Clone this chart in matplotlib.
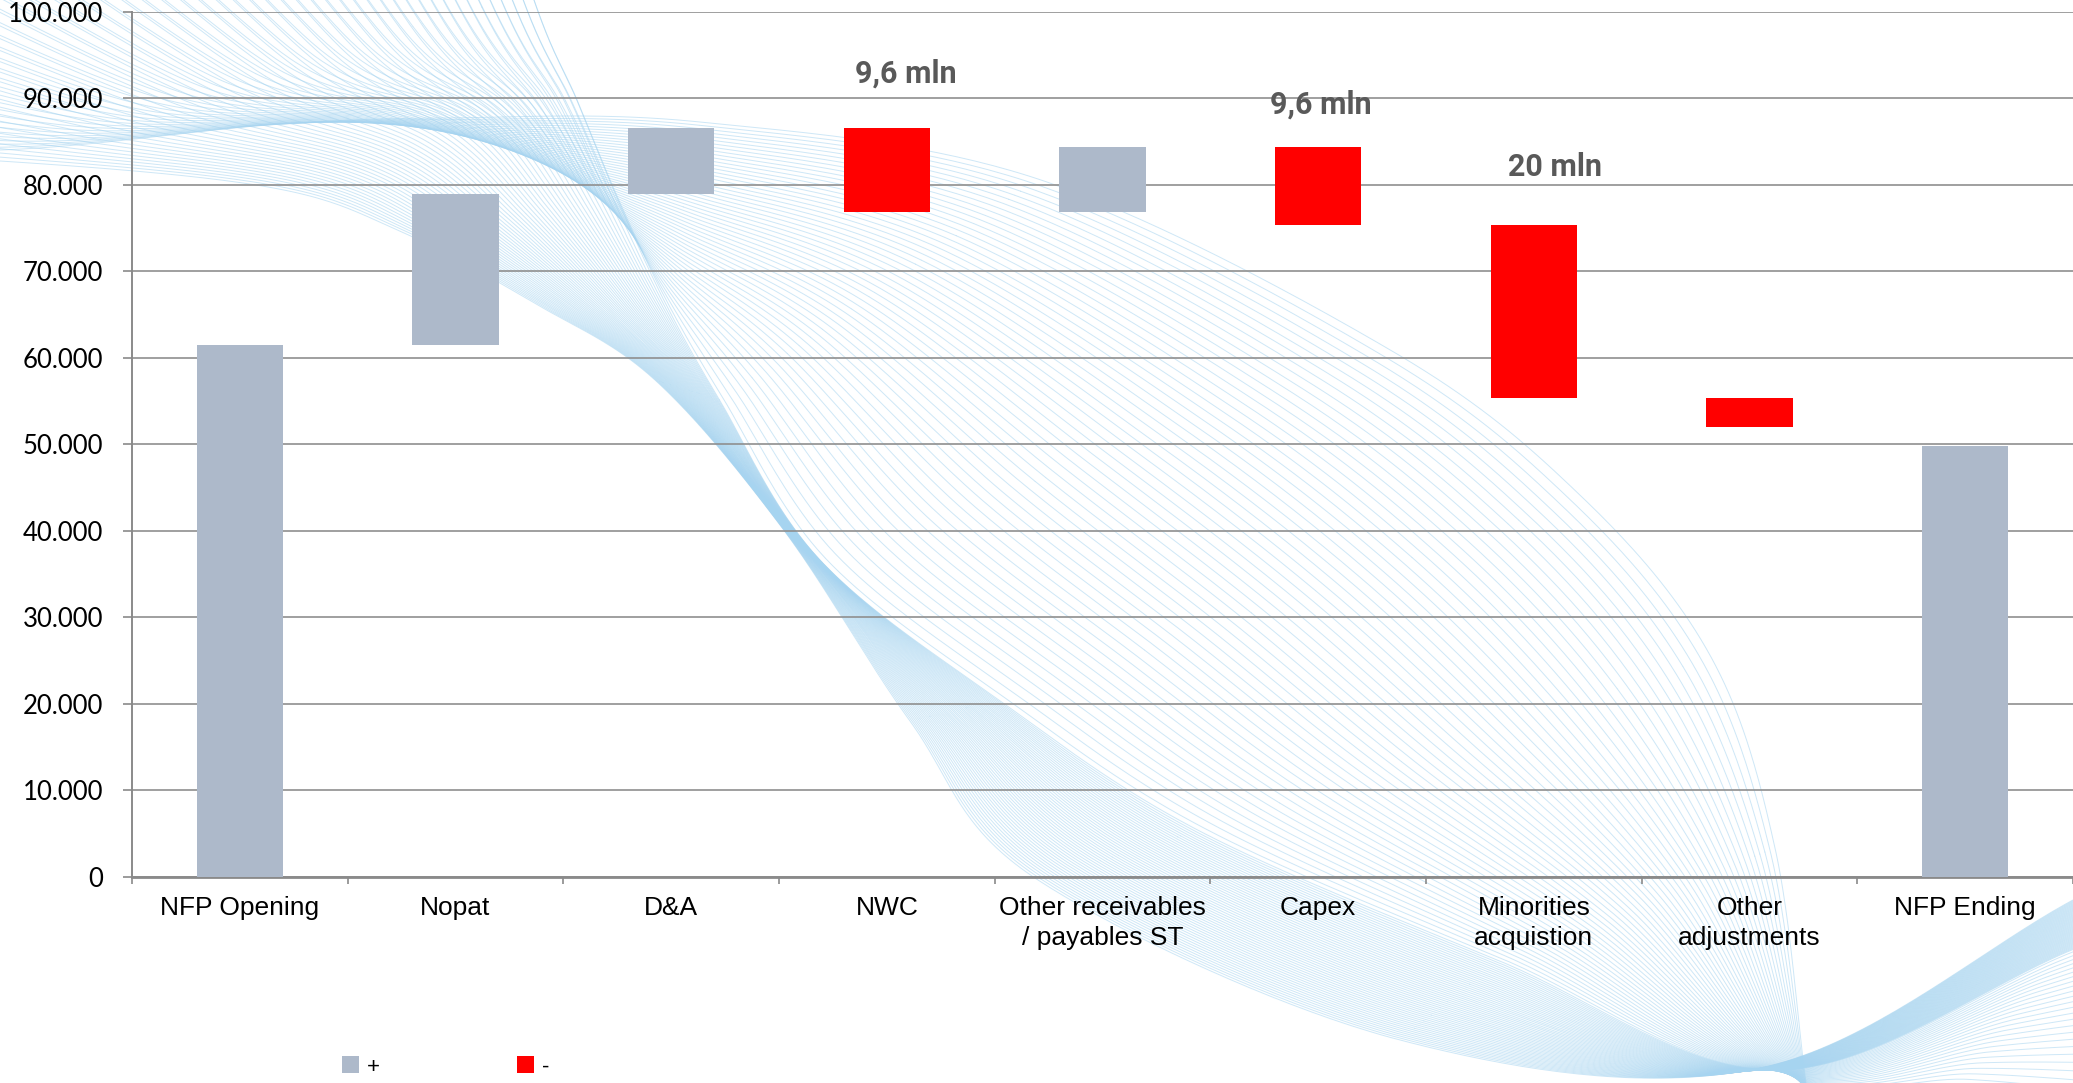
import numpy as np
import matplotlib
matplotlib.use("Agg")
import matplotlib.pyplot as plt
from matplotlib.ticker import FuncFormatter

# ---------------- data ----------------
categories = ["NFP Opening", "Nopat", "D&A", "NWC", "Other receivables\n/ payables ST",
              "Capex", "Minorities\nacquistion", "Other\nadjustments", "NFP Ending"]
bar_low = [0, 61500, 78900, 76900, 76900, 75300, 55300, 52000, 0]
bar_high = [61500, 78900, 86500, 86500, 84400, 84400, 75300, 55300, 49800]
bar_sign = ["+", "+", "+", "-", "+", "-", "-", "-", "+"]
ann_labels = ["9,6 mln", "9,6 mln", "20 mln"]
ann_cat = [3, 5, 6]
ann_value = [92850, 89300, 82100]
ytick_values = list(range(0, 100001, 10000))

# ---------------- styles ----------------
W, H = 2073, 1083
GREY_BAR = "#adb9ca"
RED_BAR = "#ff0000"
GRID = "#8f8f8f"
ann_dx = [0.09, 0.01, 0.10]

fig = plt.figure(figsize=(W / 100, H / 100), dpi=100)

# decorative background ribbon (slide template artwork)
bg = fig.add_axes([0, 0, 1, 1])
bg.set_xlim(0, W)
bg.set_ylim(H, 0)
bg.axis("off")
bg.set_zorder(0)


def catmull(points, n=40):
    p = np.asarray(points, float)
    p = np.vstack([p[0], p, p[-1]])
    out = []
    t = np.linspace(0, 1, n)[:, None]
    for i in range(1, len(p) - 2):
        p0, p1, p2, p3 = p[i - 1], p[i], p[i + 1], p[i + 2]
        seg = 0.5 * (2 * p1 + (-p0 + p2) * t + (2 * p0 - 5 * p1 + 4 * p2 - p3) * t ** 2
                     + (-p0 + 3 * p1 - 3 * p2 + p3) * t ** 3)
        out.append(seg)
    return np.vstack(out)


RL = np.array([(-300, 150), (0, 161), (268, 187), (402, 232), (536, 304), (655, 380), (783, 529),
               (910, 721), (1038, 880), (1400, 1040), (1760, 1068), (2073, 900), (2300, 780)], float)
RM = np.array([(450, -300), (536, -10), (580, 100), (620, 200), (665, 300), (720, 400), (820, 560),
               (1000, 700), (1200, 830), (1500, 960), (1780, 1070), (2073, 950), (2300, 860)], float)
RU = np.array([(-300, 145), (0, 150), (268, 125), (446, 118), (700, 122), (1038, 179), (1392, 351),
               (1583, 498), (1711, 657), (1775, 848), (1806, 1083), (1830, 1250), (1850, 1400)], float)

for t in np.linspace(0, 1, 110):
    if t <= 0.5:
        s = t / 0.5
        pts = (1 - s) * RL + s * RM
    else:
        s = (t - 0.5) / 0.5
        pts = (1 - s) * RM + s * RU
    curve = catmull(pts)
    bg.plot(curve[:, 0], curve[:, 1], color="#a6d4f0", lw=0.7, alpha=0.55)

# main chart
x0, x1 = 132 / W, 1.0
y0, y1 = 1 - 876.7 / H, 1 - 11.7 / H
ax = fig.add_axes([x0, y0, x1 - x0, y1 - y0])
ax.set_zorder(1)
ax.patch.set_alpha(0)

pos = np.arange(len(categories))
low = np.array(bar_low, float)
high = np.array(bar_high, float)
sign = np.array(bar_sign)
handles = []
for s, col in [("+", GREY_BAR), ("-", RED_BAR)]:
    m = sign == s
    h = ax.bar(pos[m], (high - low)[m], bottom=low[m], width=0.4, color=col, label=s,
               zorder=3, linewidth=0)
    handles.append(h)

ax.set_xlim(-0.5, len(categories) - 0.5)
ax.set_ylim(0, 100000)
ax.set_yticks(ytick_values)
ax.yaxis.set_major_formatter(FuncFormatter(lambda v, p: f"{int(round(v)):,}".replace(",", ".")))
ax.yaxis.grid(True, color=GRID, lw=1.2)
ax.set_axisbelow(True)

for s in ["top", "right"]:
    ax.spines[s].set_visible(False)
ax.spines["left"].set_color("#8a8a8a")
ax.spines["left"].set_linewidth(1.4)
ax.spines["bottom"].set_color("#8a8a8a")
ax.spines["bottom"].set_linewidth(2.0)

ax.tick_params(axis="y", length=6.7, width=1.2, color="#8a8a8a", pad=14, labelsize=18.5)
for lbl in ax.get_yticklabels():
    lbl.set_fontfamily("Lato")

ax.set_xticks(pos)
ax.set_xticklabels(categories, fontsize=19, family="Liberation Sans", linespacing=1.3)
ax.set_xticks(np.arange(-0.5, len(categories), 1), minor=True)
ax.tick_params(axis="x", which="major", length=0, pad=14)
ax.tick_params(axis="x", which="minor", length=5, width=1.2, color="#8a8a8a")

for lab, c, v, dx in zip(ann_labels, ann_cat, ann_value, ann_dx):
    ax.text(c + dx, v, lab, ha="center", va="center", fontsize=22, fontweight="bold",
            color="#595959", family=["Liberation Sans Narrow", "Roboto", "DejaVu Sans"])

fig.legend(handles=handles, labels=["+", "-"], loc="center left",
           bbox_to_anchor=(342 / W, 1 - 1067 / H), ncol=2, frameon=False,
           prop={"family": "Liberation Sans", "size": 16},
           handlelength=0.77, handleheight=0.77, handletextpad=0.36,
           columnspacing=6.17, borderpad=0, borderaxespad=0)

fig.savefig("out.png", dpi=100)
